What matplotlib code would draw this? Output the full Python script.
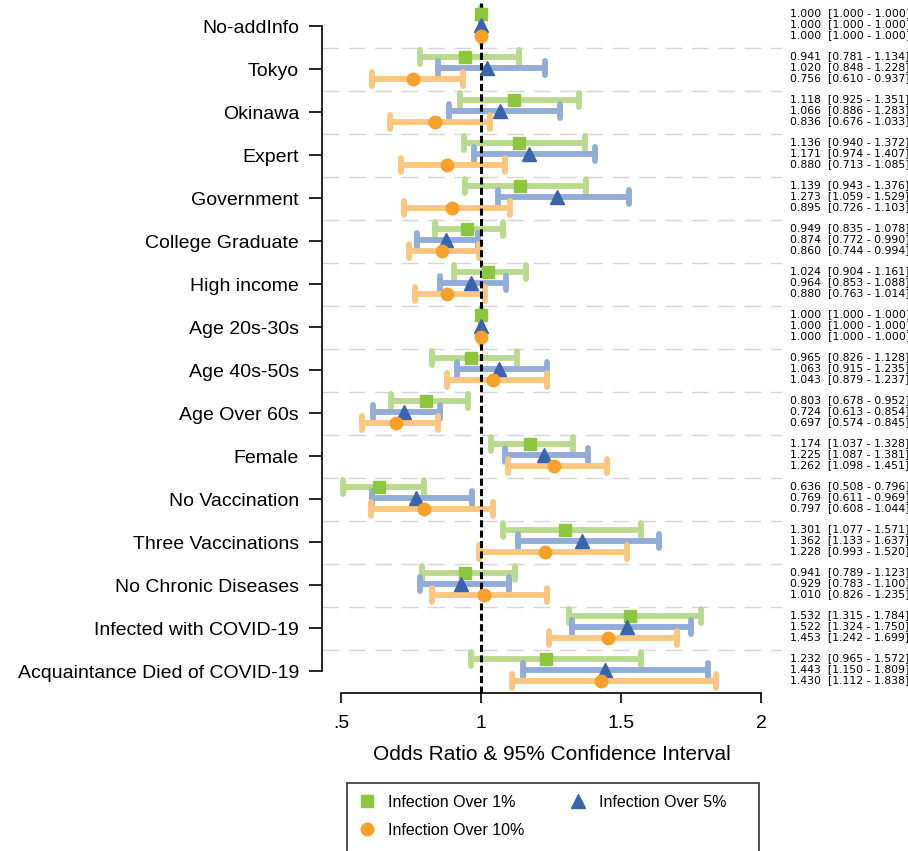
import numpy as np
import matplotlib
matplotlib.use("Agg")
import matplotlib.pyplot as plt
import matplotlib.transforms as mtransforms
from matplotlib.markers import MarkerStyle
from matplotlib.patches import Rectangle

plt.rcParams['font.family'] = ['Liberation Sans', 'DejaVu Sans']

categories = ["No-addInfo", "Tokyo", "Okinawa", "Expert", "Government", "College Graduate",
              "High income", "Age 20s-30s", "Age 40s-50s", "Age Over 60s", "Female",
              "No Vaccination", "Three Vaccinations", "No Chronic Diseases",
              "Infected with COVID-19", "Acquaintance Died of COVID-19"]

# Infection Over 1%
or1 = [1.000, 0.941, 1.118, 1.136, 1.139, 0.949, 1.024, 1.000, 0.965, 0.803, 1.174, 0.636, 1.301, 0.941, 1.532, 1.232]
lo1 = [1.000, 0.781, 0.925, 0.940, 0.943, 0.835, 0.904, 1.000, 0.826, 0.678, 1.037, 0.508, 1.077, 0.789, 1.315, 0.965]
hi1 = [1.000, 1.134, 1.351, 1.372, 1.376, 1.078, 1.161, 1.000, 1.128, 0.952, 1.328, 0.796, 1.571, 1.123, 1.784, 1.572]

# Infection Over 5%
or5 = [1.000, 1.020, 1.066, 1.171, 1.273, 0.874, 0.964, 1.000, 1.063, 0.724, 1.225, 0.769, 1.362, 0.929, 1.522, 1.443]
lo5 = [1.000, 0.848, 0.886, 0.974, 1.059, 0.772, 0.853, 1.000, 0.915, 0.613, 1.087, 0.611, 1.133, 0.783, 1.324, 1.150]
hi5 = [1.000, 1.228, 1.283, 1.407, 1.529, 0.990, 1.088, 1.000, 1.235, 0.854, 1.381, 0.969, 1.637, 1.100, 1.750, 1.809]

# Infection Over 10%
or10 = [1.000, 0.756, 0.836, 0.880, 0.895, 0.860, 0.880, 1.000, 1.043, 0.697, 1.262, 0.797, 1.228, 1.010, 1.453, 1.430]
lo10 = [1.000, 0.610, 0.676, 0.713, 0.726, 0.744, 0.763, 1.000, 0.879, 0.574, 1.098, 0.608, 0.993, 0.826, 1.242, 1.112]
hi10 = [1.000, 0.937, 1.033, 1.085, 1.103, 0.994, 1.014, 1.000, 1.237, 0.845, 1.451, 1.044, 1.520, 1.235, 1.699, 1.838]

series_labels = ["Infection Over 1%", "Infection Over 5%", "Infection Over 10%"]
xticks = [0.5, 1, 1.5, 2]
xticklabels = [".5", "1", "1.5", "2"]

fig = plt.figure(figsize=(9.08, 8.51), dpi=100)
ax = fig.add_axes([322 / 908, 1 - 693 / 851, 460 / 908, 690 / 851])

rows = np.arange(len(categories))
styles = [
    (or1, lo1, hi1, '#b9da8e', '#8cc63f', 's', 8.0, -0.27),
    (or5, lo5, hi5, '#92acd8', '#3b64ad', '^', 10.0, -0.03),
    (or10, lo10, hi10, '#fcc67e', '#f7a12a', 'o', 9.0, 0.24),
]

handles = []
for (o, lo, hi, bar_c, mark_c, m, ms, off), lab in zip(styles, series_labels):
    o, lo, hi = np.array(o), np.array(lo), np.array(hi)
    y = rows + off
    eb = ax.errorbar(o, y, xerr=[o - lo, hi - o], fmt='none', ecolor=bar_c,
                     elinewidth=4.2, capsize=5, capthick=4.2, zorder=2)
    for cl in eb[1]:
        cl.set_marker(MarkerStyle('|', capstyle='round'))
    eb[2][0].set_capstyle('round')
    h, = ax.plot(o, y, ls='none', marker=m, ms=ms, color=mark_c, mec=mark_c,
                 zorder=4, label=lab)
    handles.append(h)

ax.axvline(1, color='black', lw=2.2, ls=(0, (2.3, 1.1)), zorder=3)
for yy in rows[:-1] + 0.5:
    ax.axhline(yy, color='#d6d6d6', lw=1.0, ls=(0, (12, 7)), zorder=1)

# estimates and CIs on the right
trans = mtransforms.blended_transform_factory(ax.transAxes, ax.transData)
for k, (o, lo, hi, *_rest) in enumerate(styles):
    for i in rows:
        ax.text(1.017, i - 0.05 + (k - 1) * 0.255,
                f"{o[i]:.3f}  [{lo[i]:.3f} - {hi[i]:.3f}]",
                transform=trans, fontsize=7.8, va='center', ha='left',
                family='DejaVu Sans', clip_on=False)

ax.set_xlim(0.432, 2.075)
ax.set_ylim(15.51, -0.535)
ax.set_yticks(rows)
ax.set_yticklabels(categories, fontsize=14)
ax.set_xticks(xticks)
ax.set_xticklabels(xticklabels, fontsize=14)
ax.tick_params(axis='y', length=9.5, width=1.2, pad=7)
ax.tick_params(axis='x', length=7, width=1.2, pad=9)
ax.spines['top'].set_visible(False)
ax.spines['right'].set_visible(False)
ax.spines['left'].set_bounds(0, 15)
ax.spines['bottom'].set_bounds(0.5, 2)
ax.spines['left'].set_linewidth(1.2)
ax.spines['bottom'].set_linewidth(1.2)
ax.set_xlabel("Odds Ratio & 95% Confidence Interval", fontsize=15, labelpad=9)

# legend box runs past the bottom edge of the figure, as in the original
fig.patches.append(Rectangle((347 / 908, -0.05), (759 - 347) / 908, 1 - 783 / 851 + 0.05,
                             transform=fig.transFigure, fill=False,
                             edgecolor='#333333', lw=1.2))
leg = fig.legend([handles[0], handles[2], handles[1]],
                 [series_labels[0], series_labels[2], series_labels[1]],
                 ncol=2, loc='upper left', bbox_to_anchor=(347 / 908, 1 - 783 / 851),
                 fontsize=11.5, frameon=False,
                 borderpad=0.75, handlelength=1.0, handletextpad=0.8,
                 columnspacing=2.9, labelspacing=0.8, borderaxespad=0)

fig.savefig('out.png', dpi=100)
